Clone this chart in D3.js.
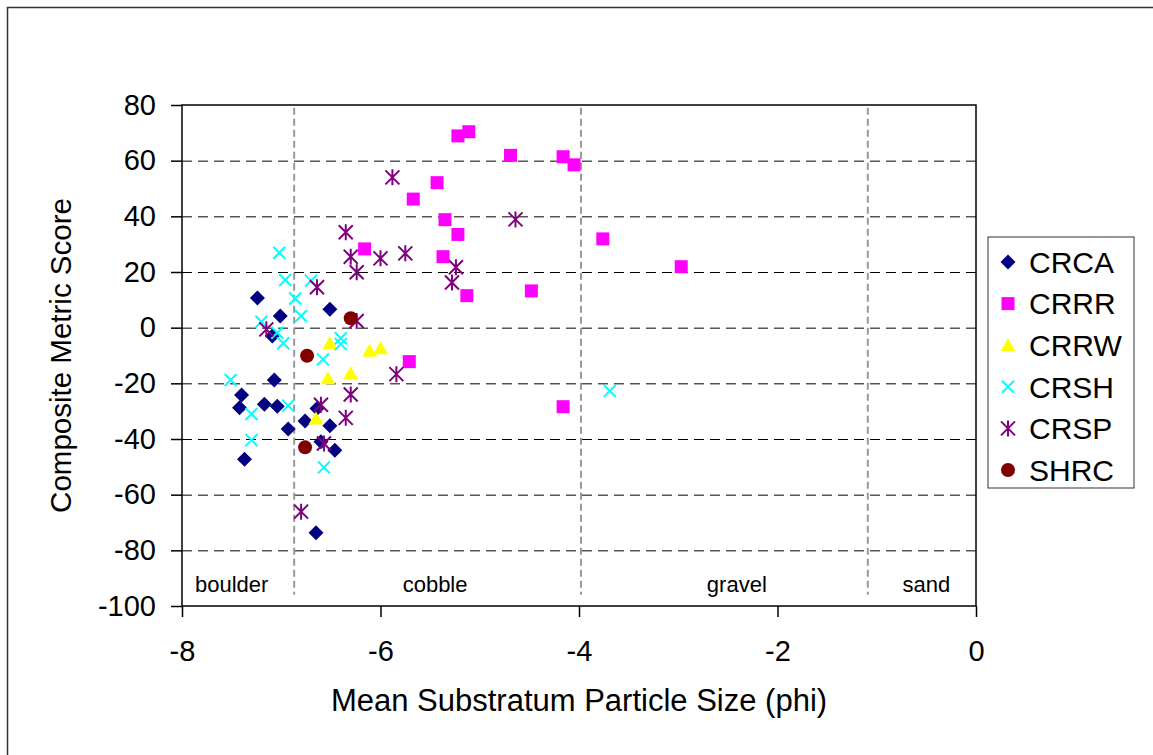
<!DOCTYPE html>
<html>
<head>
<meta charset="utf-8">
<script src="https://cdn.jsdelivr.net/npm/d3@7"></script>
<style>
body { margin: 0; background: #fff; }
svg { display: block; font-family: "Liberation Sans", Arial, sans-serif; }
</style>
</head>
<body>
<svg width="1153" height="755"></svg>
<script>
// series, [phi, score]
var crca = [[-7.24, 10.7], [-7.01, 4.2], [-7.09, -3.0], [-6.51, 6.6], [-7.07, -18.8], [-7.40, -24.2],
    [-7.42, -28.8], [-7.17, -27.5], [-7.04, -28.2], [-6.93, -36.4], [-6.76, -33.5], [-6.64, -29.0],
    [-6.51, -35.2], [-6.60, -41.0], [-6.46, -44.0], [-7.37, -47.3], [-6.65, -73.7]];
var crrr = [[-5.22, 68.9], [-5.11, 70.4], [-4.69, 61.9], [-4.16, 61.4], [-4.05, 58.5], [-5.43, 52.1],
    [-5.67, 46.2], [-5.35, 38.8], [-5.22, 33.5], [-3.76, 31.9], [-6.16, 28.3], [-5.37, 25.5],
    [-2.97, 21.9], [-5.13, 11.5], [-4.48, 13.2], [-5.71, -12.2], [-4.16, -28.4]];
var crrw = [[-6.51, -5.5], [-6.11, -8.3], [-6.00, -7.4], [-6.53, -18.2], [-6.30, -16.4], [-6.65, -32.6]];
var crsh = [[-7.02, 26.9], [-6.96, 17.1], [-6.70, 16.9], [-6.86, 10.5], [-7.20, 2.1], [-6.80, 4.2],
    [-7.04, -1.8], [-6.98, -5.6], [-6.40, -3.8], [-6.40, -5.9], [-6.58, -11.4], [-7.51, -18.8],
    [-6.93, -28.0], [-7.30, -31.0], [-7.30, -40.4], [-6.57, -50.2], [-3.69, -22.7]];
var crsp = [[-5.88, 54.0], [-4.64, 38.9], [-6.35, 34.3], [-6.30, 25.5], [-6.00, 24.9], [-5.75, 26.7],
    [-6.24, 19.9], [-6.64, 14.5], [-5.24, 21.7], [-5.28, 16.2], [-7.15, -0.6], [-6.24, 2.4],
    [-5.84, -16.7], [-6.30, -24.0], [-6.60, -27.7], [-6.35, -32.4], [-6.57, -41.6], [-6.80, -66.1]];
var shrc = [[-6.30, 3.4], [-6.74, -10.1], [-6.76, -43.0]];

var seriesNames = ["CRCA", "CRRR", "CRRW", "CRSH", "CRSP", "SHRC"];
var seriesData = [crca, crrr, crrw, crsh, crsp, shrc];

var xTicks = [-8, -6, -4, -2, 0];
var yTicks = [-100, -80, -60, -40, -20, 0, 20, 40, 60, 80];

// particle size classes
var sizeClasses = ["boulder", "cobble", "gravel", "sand"];
var classBounds = [-6.87, -3.98, -1.09];
var classLabelX = [-7.5, -5.45, -2.41, -0.5];

var colors = ["#000080", "#ff00ff", "#ffff00", "#00ffff", "#800080", "#800000"];
var shapes = ["diamond", "square", "triangle", "cross", "star", "circle"];

var svg = d3.select("svg"),
    margin = {top: 105, right: 177, bottom: 149, left: 182},
    width = +svg.attr("width") - margin.left - margin.right,
    height = +svg.attr("height") - margin.top - margin.bottom;

svg.append("rect")
    .attr("x", 7.5).attr("y", 7.5)
    .attr("width", 1160).attr("height", 760)
    .attr("fill", "#fff")
    .attr("stroke", "#333")
    .attr("stroke-width", 1.5);

var g = svg.append("g").attr("transform", "translate(" + margin.left + "," + margin.top + ")");

var x = d3.scaleLinear().domain([-8, 0]).range([0, width]);
var y = d3.scaleLinear().domain([-100, 80]).range([height, 0]);

// gridlines
g.selectAll(".grid")
    .data(yTicks.slice(1, -1))
    .enter().append("line")
    .attr("x1", 0).attr("x2", width)
    .attr("y1", function(d) { return y(d) + 0.5; })
    .attr("y2", function(d) { return y(d) + 0.5; })
    .attr("stroke", "#000")
    .attr("stroke-dasharray", "10,6");

g.selectAll(".bound")
    .data(classBounds)
    .enter().append("line")
    .attr("x1", function(d) { return x(d); })
    .attr("x2", function(d) { return x(d); })
    .attr("y1", y(79))
    .attr("y2", y(-96))
    .attr("stroke", "#999")
    .attr("stroke-width", 2)
    .attr("stroke-dasharray", "7,4");

g.selectAll(".cls")
    .data(sizeClasses)
    .enter().append("text")
    .attr("x", function(d, i) { return x(classLabelX[i]); })
    .attr("y", y(-95))
    .attr("text-anchor", "middle")
    .attr("font-size", 22)
    .text(function(d) { return d; });

// axes
var fmt = function(d) { return String(d); };
var xAxis = g.append("g")
    .attr("transform", "translate(0," + height + ")")
    .call(d3.axisBottom(x).tickValues(xTicks).tickFormat(fmt).tickSize(11).tickSizeOuter(0).tickPadding(23));
var yAxis = g.append("g")
    .call(d3.axisLeft(y).tickValues(yTicks).tickFormat(fmt).tickSize(11).tickSizeOuter(0).tickPadding(15));

[xAxis, yAxis].forEach(function(a) {
    a.select(".domain").remove();
    a.attr("font-family", null).attr("font-size", 29);
    a.selectAll("line").attr("stroke", "#000").attr("stroke-width", 1.5);
    a.selectAll("text").attr("fill", "#000");
});

g.append("rect")
    .attr("width", width).attr("height", height)
    .attr("fill", "none")
    .attr("stroke", "#000")
    .attr("stroke-width", 1.5);

function marker(sel, shape, color) {
    if (shape == "diamond") {
        sel.append("path").attr("d", "M0,-7.5L7.5,0L0,7.5L-7.5,0Z").attr("fill", color);
    } else if (shape == "square") {
        sel.append("rect").attr("x", -6.5).attr("y", -6.5).attr("width", 13).attr("height", 13).attr("fill", color);
    } else if (shape == "triangle") {
        sel.append("path").attr("d", "M0,-7L7.5,6L-7.5,6Z").attr("fill", color);
    } else if (shape == "cross") {
        sel.append("path").attr("d", "M-6,-6L6,6M-6,6L6,-6").attr("stroke", color).attr("stroke-width", 2);
    } else if (shape == "star") {
        sel.append("path").attr("d", "M-7,-7L7,7M-7,7L7,-7M0,-8L0,8").attr("stroke", color).attr("stroke-width", 2);
    } else {
        sel.append("circle").attr("r", 7).attr("fill", color);
    }
}

seriesData.forEach(function(data, i) {
    g.append("g").selectAll("g")
        .data(data)
        .enter().append("g")
        .attr("transform", function(d) { return "translate(" + x(d[0]) + "," + y(d[1]) + ")"; })
        .each(function() { marker(d3.select(this), shapes[i], colors[i]); });
});

// axis titles
svg.append("text")
    .attr("x", margin.left + width / 2)
    .attr("y", 711)
    .attr("text-anchor", "middle")
    .attr("font-size", 31)
    .text("Mean Substratum Particle Size (phi)");

svg.append("text")
    .attr("transform", "translate(71," + (margin.top + height / 2) + ") rotate(-90)")
    .attr("text-anchor", "middle")
    .attr("font-size", 29.5)
    .text("Composite Metric Score");

// legend
var legend = svg.append("g").attr("transform", "translate(988,237)");
legend.append("rect")
    .attr("width", 146).attr("height", 251)
    .attr("fill", "#fff")
    .attr("stroke", "#333")
    .attr("stroke-width", 1);

var items = legend.selectAll(".item")
    .data(seriesNames)
    .enter().append("g")
    .attr("transform", function(d, i) { return "translate(20," + (25 + i * 41.6) + ")"; });

items.each(function(d, i) { marker(d3.select(this), shapes[i], colors[i]); });

items.append("text")
    .attr("x", 21)
    .attr("dy", "0.36em")
    .attr("font-size", 30)
    .text(function(d) { return d; });
</script>
</body>
</html>
